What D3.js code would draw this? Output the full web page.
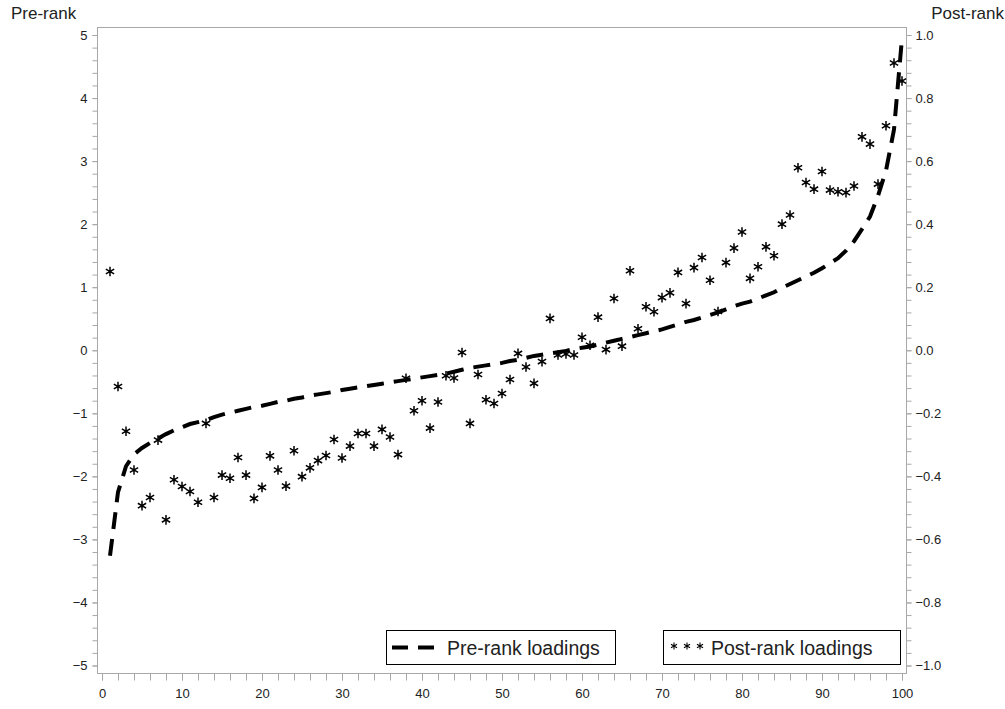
<!DOCTYPE html>
<html>
<head>
<meta charset="utf-8">
<script src="https://cdn.jsdelivr.net/npm/d3@7"></script>
<style>
  html, body { margin: 0; padding: 0; background: #fff; }
  svg { display: block; font-family: Arial, "Liberation Sans", sans-serif; }
</style>
</head>
<body>
<svg id="chart" width="1005" height="709"></svg>
<script>
// ---------- data ----------
const ranks = d3.range(1, 101);
const preRank = [
  -3.26, -2.25, -1.84, -1.65, -1.55, -1.47, -1.40, -1.33, -1.27, -1.22,
  -1.17, -1.14, -1.11, -1.06, -1.02, -0.99, -0.96, -0.93, -0.90, -0.88,
  -0.85, -0.82, -0.80, -0.77, -0.75, -0.72, -0.70, -0.68, -0.66, -0.63,
  -0.61, -0.59, -0.57, -0.55, -0.53, -0.51, -0.49, -0.47, -0.45, -0.43,
  -0.41, -0.39, -0.37, -0.34, -0.31, -0.28, -0.26, -0.24, -0.22, -0.20,
  -0.17, -0.15, -0.12, -0.09, -0.07, -0.05, -0.03, -0.01, 0.02, 0.04,
  0.06, 0.09, 0.12, 0.15, 0.18, 0.21, 0.24, 0.27, 0.30, 0.33,
  0.37, 0.41, 0.45, 0.48, 0.52, 0.56, 0.60, 0.65, 0.70, 0.74,
  0.77, 0.82, 0.87, 0.92, 0.99, 1.05, 1.11, 1.17, 1.23, 1.30,
  1.38, 1.46, 1.58, 1.73, 1.92, 2.12, 2.45, 2.85, 3.50, 4.95
];
const postRank = [
  0.250, -0.115, -0.257, -0.380, -0.493, -0.467, -0.285, -0.538, -0.411, -0.432,
  -0.448, -0.482, -0.232, -0.467, -0.396, -0.406, -0.340, -0.396, -0.470, -0.435,
  -0.335, -0.380, -0.431, -0.319, -0.401, -0.373, -0.350, -0.334, -0.283, -0.342,
  -0.304, -0.264, -0.264, -0.304, -0.251, -0.275, -0.331, -0.089, -0.192, -0.160,
  -0.247, -0.164, -0.081, -0.088, -0.007, -0.232, -0.077, -0.157, -0.169, -0.137,
  -0.093, -0.010, -0.053, -0.105, -0.036, 0.101, -0.015, -0.012, -0.015, 0.041,
  0.016, 0.105, 0.002, 0.164, 0.013, 0.252, 0.068, 0.138, 0.122, 0.167,
  0.182, 0.247, 0.148, 0.262, 0.294, 0.222, 0.123, 0.278, 0.324, 0.375,
  0.228, 0.265, 0.328, 0.300, 0.400, 0.429, 0.579, 0.532, 0.511, 0.567,
  0.508, 0.503, 0.500, 0.521, 0.677, 0.654, 0.527, 0.712, 0.911, 0.854
];
const xTicks = [0, 10, 20, 30, 40, 50, 60, 70, 80, 90, 100];
const yLeftTicks = [-5, -4, -3, -2, -1, 0, 1, 2, 3, 4, 5];
const yRightTicks = [-1.0, -0.8, -0.6, -0.4, -0.2, 0.0, 0.2, 0.4, 0.6, 0.8, 1.0];
const leftTitle = "Pre-rank";
const rightTitle = "Post-rank";
const legendLabels = ["Pre-rank loadings", "Post-rank loadings"];

// ---------- layout ----------
const svg = d3.select("#chart");
const frame = { left: 97.5, right: 906.5, top: 27.5, bottom: 673.5 };
const axisColor = "#a8a8a8";
const textColor = "#222";

const x = d3.scaleLinear().domain([0, 100]).range([102, 902]);
const yL = d3.scaleLinear().domain([-5, 5]).range([665.5, 35]);
const yR = d3.scaleLinear().domain([-1, 1]).range([665.5, 35]);

// frame
svg.append("rect")
  .attr("x", frame.left).attr("y", frame.top)
  .attr("width", frame.right - frame.left).attr("height", frame.bottom - frame.top)
  .attr("fill", "none").attr("stroke", axisColor).attr("stroke-width", 1);

// axes
function styleAxis(size) {
  return g => {
    g.select(".domain").remove();
    g.selectAll("line").attr("stroke", axisColor);
    g.selectAll("text").attr("fill", textColor).attr("font-size", size)
      .attr("font-family", "Arial, 'Liberation Sans', sans-serif");
  };
}

// bottom axis: minor ticks every 2
const xMinor = d3.range(0, 101, 2);
svg.append("g").attr("transform", `translate(0,${frame.bottom})`)
  .call(d3.axisBottom(x).tickValues(xMinor).tickSize(7).tickFormat(""))
  .call(styleAxis("12px"));
svg.append("g").attr("transform", `translate(0,${frame.bottom})`)
  .call(d3.axisBottom(x).tickValues(xTicks).tickSize(7).tickPadding(8).tickFormat(d3.format("d")))
  .call(styleAxis("13px"));

// left axis: minor every 0.2
const yLMinor = d3.range(-5, 5.001, 0.2);
svg.append("g").attr("transform", `translate(${frame.left},0)`)
  .call(d3.axisLeft(yL).tickValues(yLMinor).tickSize(5).tickFormat(""))
  .call(styleAxis("13px"));
svg.append("g").attr("transform", `translate(${frame.left},0)`)
  .call(d3.axisLeft(yL).tickValues(yLeftTicks).tickSize(5).tickPadding(5).tickFormat(d3.format("d")))
  .call(styleAxis("13px"));

// right axis: minor every 0.04
const yRMinor = d3.range(-1, 1.0001, 0.04);
svg.append("g").attr("transform", `translate(${frame.right},0)`)
  .call(d3.axisRight(yR).tickValues(yRMinor).tickSize(5).tickFormat(""))
  .call(styleAxis("13px"));
svg.append("g").attr("transform", `translate(${frame.right},0)`)
  .call(d3.axisRight(yR).tickValues(yRightTicks).tickSize(5).tickPadding(4).tickFormat(d3.format(".1f")))
  .call(styleAxis("13px"));

// titles
svg.append("text").attr("x", 11).attr("y", 19).text(leftTitle)
  .attr("font-size", "17px").attr("fill", textColor);
svg.append("text").attr("x", 1004).attr("y", 19).attr("text-anchor", "end").text(rightTitle)
  .attr("font-size", "17px").attr("fill", textColor);

// pre-rank dashed curve
const line = d3.line().x((d, i) => x(ranks[i])).y(d => yL(d));
svg.append("path").datum(preRank)
  .attr("d", line)
  .attr("fill", "none").attr("stroke", "#000")
  .attr("stroke-width", 4).attr("stroke-dasharray", "17,10");

// asterisk markers
function starPath(r) {
  let p = "";
  for (let k = 0; k < 3; k++) {
    const a = Math.PI / 2 + k * Math.PI / 3;
    const dx = r * Math.cos(a), dy = r * Math.sin(a);
    p += `M${-dx},${-dy}L${dx},${dy}`;
  }
  return p;
}
svg.append("g").selectAll("path").data(postRank).join("path")
  .attr("transform", (d, i) => `translate(${x(ranks[i])},${yR(d)})`)
  .attr("d", starPath(4.8))
  .attr("stroke", "#000").attr("stroke-width", 1.5).attr("fill", "none");

// legend
const lg = svg.append("g");
lg.append("rect").attr("x", 386.5).attr("y", 630.5).attr("width", 229).attr("height", 34)
  .attr("fill", "#fff").attr("stroke", "#000");
lg.append("line").attr("x1", 392).attr("x2", 434).attr("y1", 647.5).attr("y2", 647.5)
  .attr("stroke", "#000").attr("stroke-width", 4).attr("stroke-dasharray", "16,10");
lg.append("text").attr("x", 447).attr("y", 654.5).text(legendLabels[0])
  .attr("font-size", "19.5px").attr("fill", textColor);

lg.append("rect").attr("x", 663.5).attr("y", 630.5).attr("width", 237).attr("height", 34)
  .attr("fill", "#fff").attr("stroke", "#000");
[674, 687, 700].forEach(cx => {
  lg.append("path").attr("transform", `translate(${cx},646)`).attr("d", starPath(3.5))
    .attr("stroke", "#000").attr("stroke-width", 1.1).attr("fill", "none");
});
lg.append("text").attr("x", 711).attr("y", 654.5).text(legendLabels[1])
  .attr("font-size", "19.5px").attr("fill", textColor);
</script>
</body>
</html>
